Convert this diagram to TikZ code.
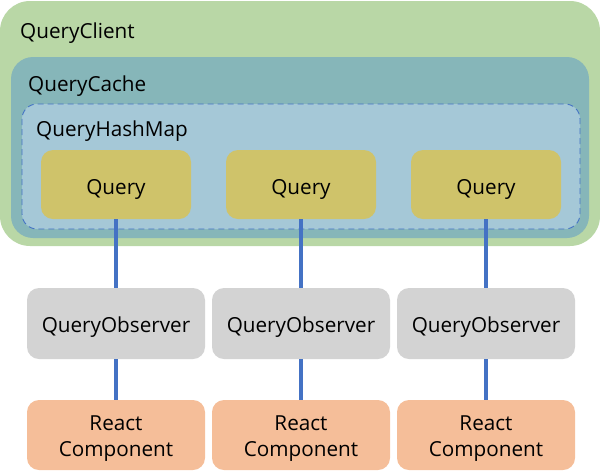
\documentclass[tikz,border=0pt]{standalone}
\usepackage{fontspec}
\setmainfont{Open Sans}
\definecolor{clientc}{RGB}{185,215,166}
\definecolor{cachec}{RGB}{134,182,185}
\definecolor{hashc}{RGB}{165,200,215}
\definecolor{dashc}{RGB}{68,114,196}
\definecolor{queryc}{RGB}{207,195,106}
\definecolor{obsc}{RGB}{211,211,211}
\definecolor{reactc}{RGB}{245,190,153}
\definecolor{linkc}{RGB}{68,114,196}
\tikzset{
  box/.style={rounded corners=12pt, inner sep=0pt},
  querybox/.style={box, fill=queryc, minimum width=150pt, minimum height=69pt},
  obsbox/.style={box, fill=obsc, minimum width=178pt, minimum height=71pt},
  reactbox/.style={box, fill=reactc, minimum width=178pt, minimum height=70pt},
  link/.style={draw=linkc, line width=4pt},
  txt/.style={inner sep=0pt, anchor=base, align=center, font=\fontsize{20.7}{25.3}\selectfont},
  lbl/.style={txt, anchor=base west}
}
\begin{document}
\begin{tikzpicture}[x=1pt,y=-1pt]
\useasboundingbox (0,0) rectangle (600,475);
\fill[clientc, rounded corners=30pt] (0,1) rectangle (600,246);
\fill[cachec, rounded corners=22pt] (11,57) rectangle (589,238);
\draw[fill=hashc, draw=dashc, dash pattern=on 6pt off 4pt, line width=0.9pt, rounded corners=15pt] (22,104) rectangle (580,229);
\node[lbl] (client) at (20,38.5) {QueryClient};
\node[lbl] (cache) at (28,91.7) {QueryCache};
\node[lbl] (hash) at (36,136.7) {QueryHashMap};
\foreach \i/\x in {1/116,2/301,3/486} {
  \node[querybox] (q\i) at (\x,184.5) {};
  \node[obsbox] (o\i) at (\x,323.5) {};
  \node[reactbox] (r\i) at (\x,435) {};
  \draw[link] (q\i.south) -- (o\i.north);
  \draw[link] (o\i.south) -- (r\i.north);
  \node[txt] (qt\i) at (\x,194) {Query};
  \node[txt] (ot\i) at (\x,332.3) {QueryObserver};
  \node[txt] (rt\i) at (\x,456) {React\\Component};
}
\end{tikzpicture}
\end{document}
